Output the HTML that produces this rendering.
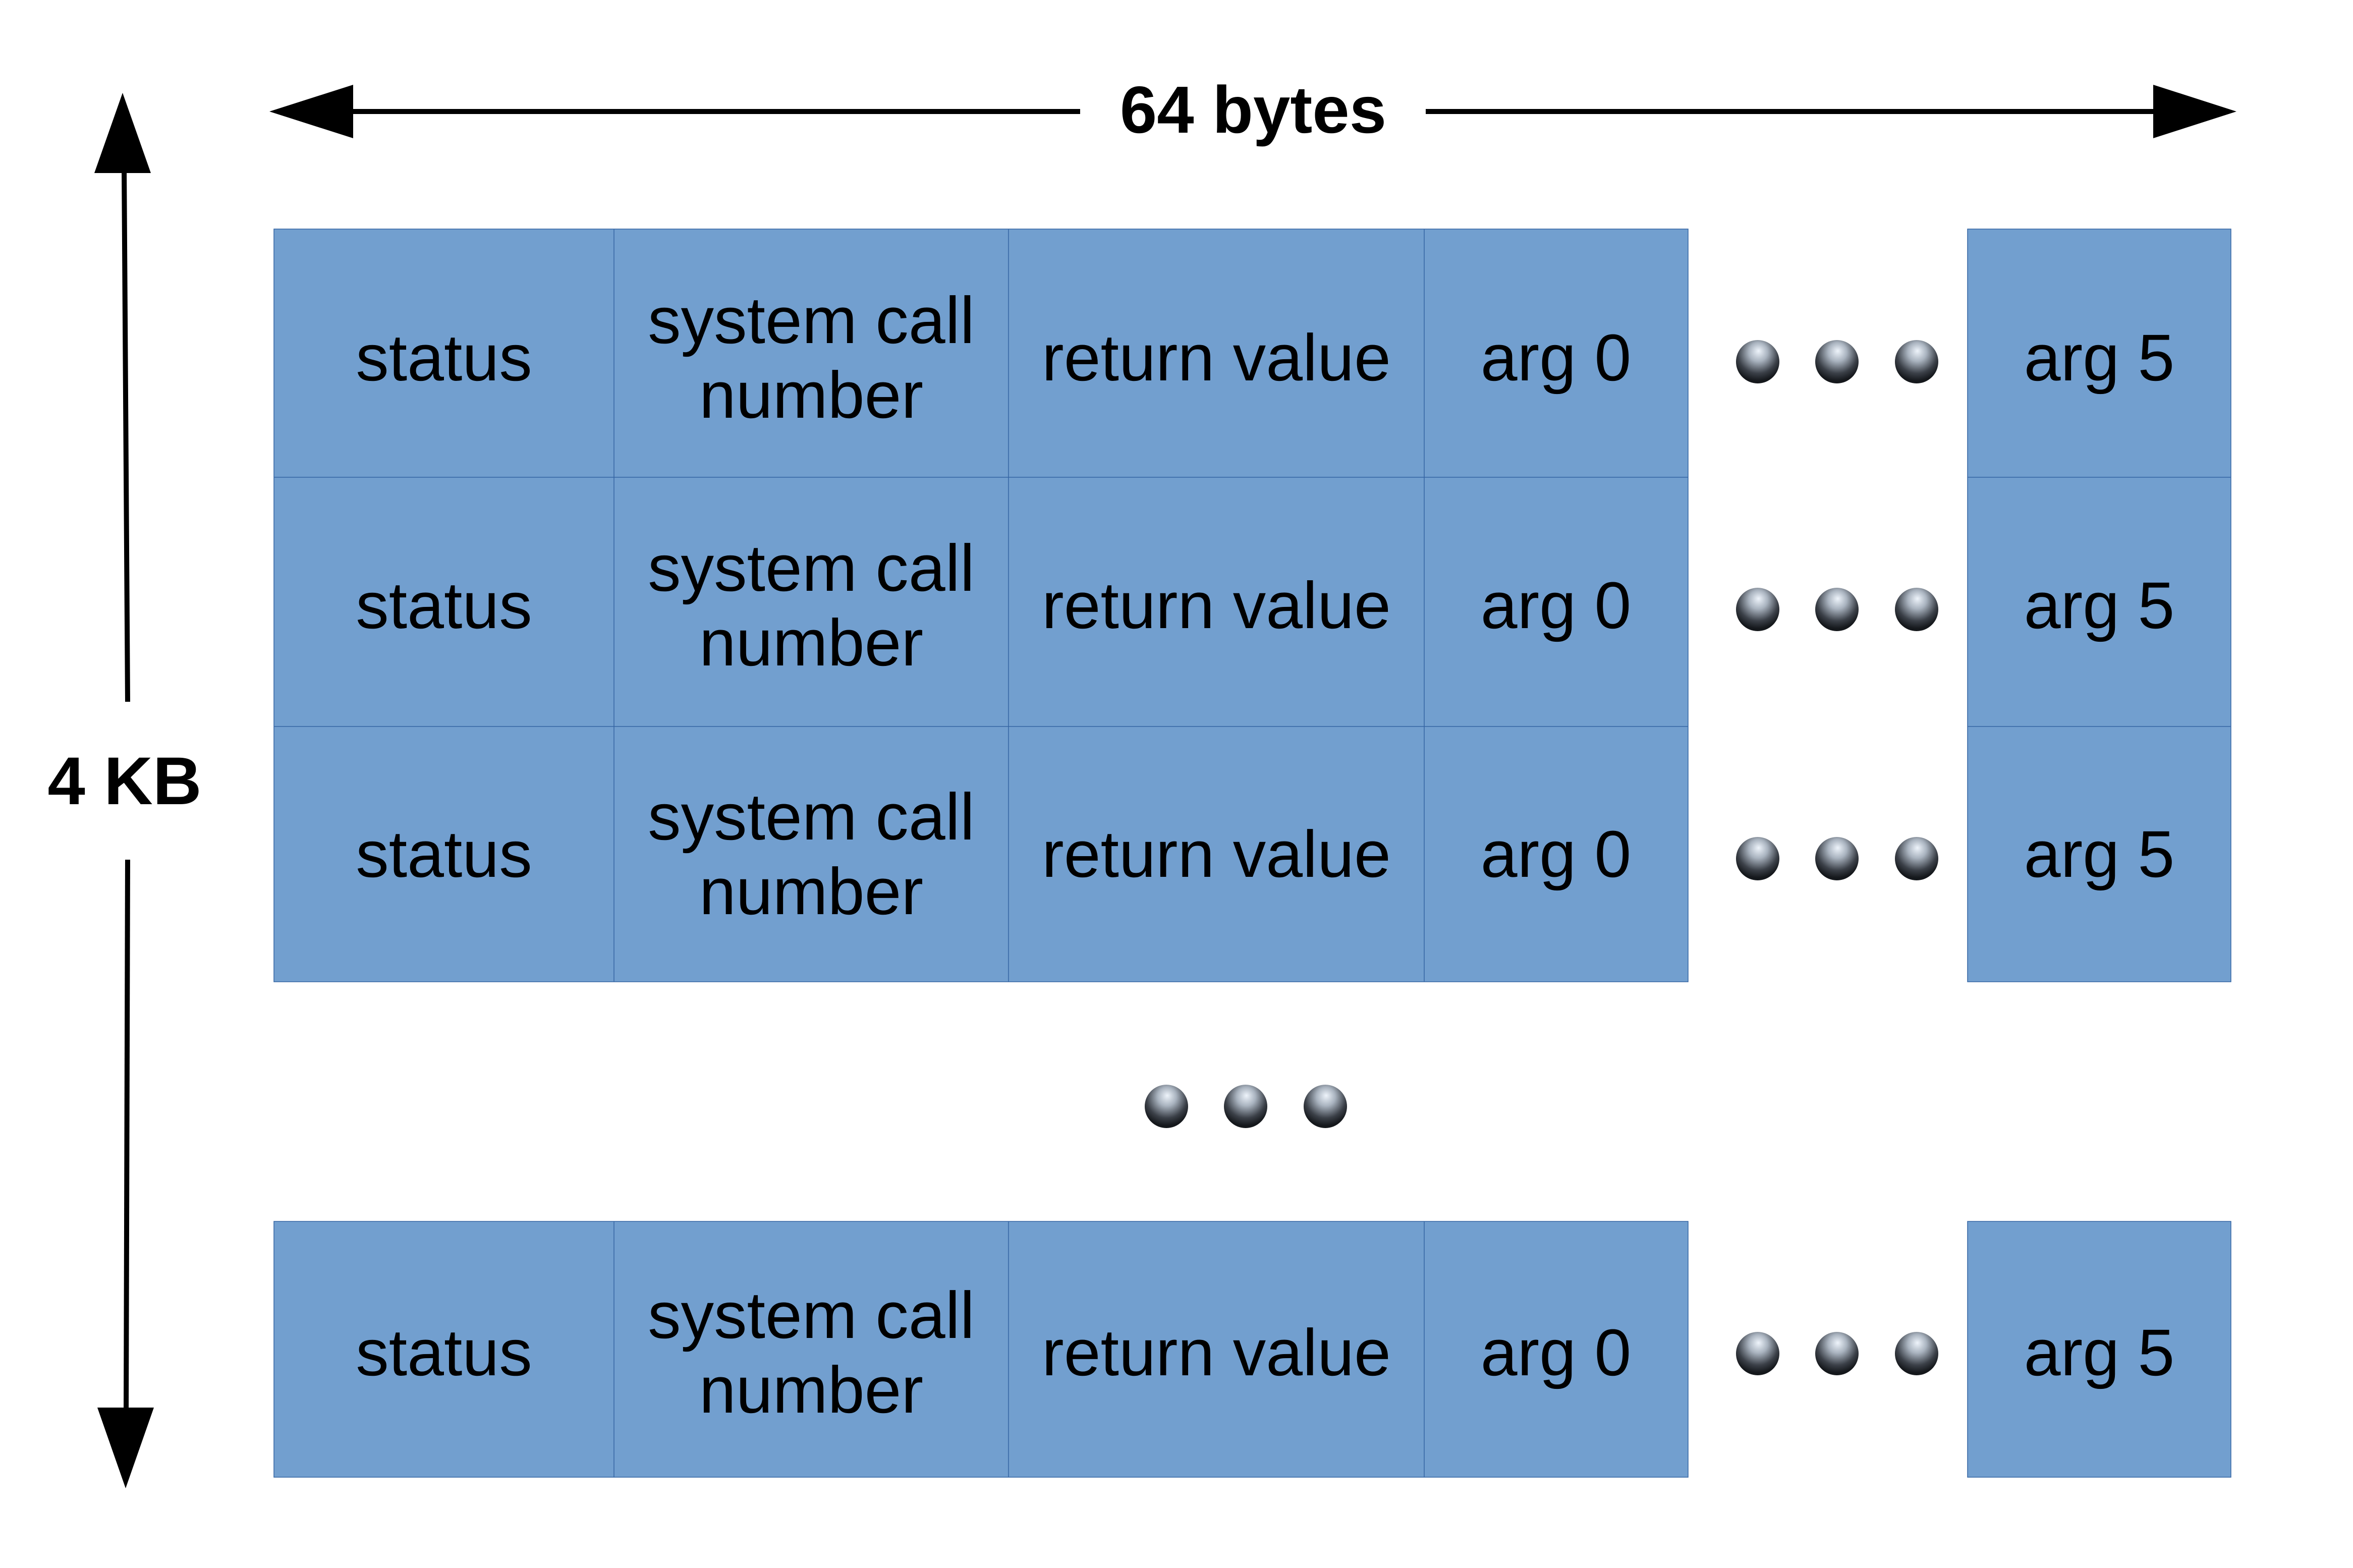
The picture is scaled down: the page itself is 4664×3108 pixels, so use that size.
<!DOCTYPE html>
<html><head><meta charset="utf-8"><style>
html,body{margin:0;padding:0;background:#fff;}
svg{display:block;}
text{font-family:"Liberation Sans",sans-serif;}
</style></head><body>
<svg width="4664" height="3108" viewBox="0 0 4664 3108" xmlns="http://www.w3.org/2000/svg">
<defs>
<radialGradient id="sp" cx="50%" cy="32%" r="62%" fx="52%" fy="25%">
<stop offset="0" stop-color="#eef4fb"/>
<stop offset="0.35" stop-color="#a9b3bf"/>
<stop offset="0.75" stop-color="#3b4048"/>
<stop offset="1" stop-color="#15181c"/>
</radialGradient>
</defs>
<rect width="4664" height="3108" fill="#fff"/>

<line x1="690" y1="221" x2="2141" y2="221" stroke="#000" stroke-width="10"/>
<line x1="2826" y1="221" x2="4280" y2="221" stroke="#000" stroke-width="10"/>
<polygon points="534,221 700,168 700,274" fill="#000"/>
<polygon points="4433,221 4268,168 4268,274" fill="#000"/>
<text x="2484" y="263" font-size="132" font-weight="bold" text-anchor="middle">64 bytes</text>

<line x1="246" y1="330" x2="253" y2="1391" stroke="#000" stroke-width="10"/>
<polygon points="243,184 187,343 299,343" fill="#000"/>
<line x1="253" y1="1704" x2="250" y2="2800" stroke="#000" stroke-width="10"/>
<polygon points="249,2950 193,2790 305,2790" fill="#000"/>
<text x="247" y="1594" font-size="134" font-weight="bold" text-anchor="middle">4 KB</text>

<g stroke="#3465a4" stroke-width="1.5" fill="#729fcf">
<rect x="543" y="454" width="2803" height="1492"/>
<rect x="3900" y="454" width="522" height="1492"/>
<line x1="543" y1="946" x2="3346" y2="946"/>
<line x1="543" y1="1440" x2="3346" y2="1440"/>
<line x1="3900" y1="946" x2="4422" y2="946"/>
<line x1="3900" y1="1440" x2="4422" y2="1440"/>
<line x1="1217" y1="454" x2="1217" y2="1946"/>
<line x1="1999" y1="454" x2="1999" y2="1946"/>
<line x1="2823" y1="454" x2="2823" y2="1946"/>
<rect x="543" y="2421" width="2803" height="507"/>
<rect x="3900" y="2421" width="522" height="507"/>
<line x1="1217" y1="2421" x2="1217" y2="2928"/>
<line x1="1999" y1="2421" x2="1999" y2="2928"/>
<line x1="2823" y1="2421" x2="2823" y2="2928"/>
</g>

<g font-size="131" text-anchor="middle" fill="#000">
<text x="880" y="754">status</text>
<text x="1608" y="680">system call</text>
<text x="1608" y="828">number</text>
<text x="2411" y="754">return value</text>
<text x="3084" y="754">arg 0</text>
<text x="4161" y="754">arg 5</text>

<text x="880" y="1245">status</text>
<text x="1608" y="1171">system call</text>
<text x="1608" y="1319">number</text>
<text x="2411" y="1245">return value</text>
<text x="3084" y="1245">arg 0</text>
<text x="4161" y="1245">arg 5</text>

<text x="880" y="1738">status</text>
<text x="1608" y="1664">system call</text>
<text x="1608" y="1812">number</text>
<text x="2411" y="1738">return value</text>
<text x="3084" y="1738">arg 0</text>
<text x="4161" y="1738">arg 5</text>

<text x="880" y="2726">status</text>
<text x="1608" y="2652">system call</text>
<text x="1608" y="2800">number</text>
<text x="2411" y="2726">return value</text>
<text x="3084" y="2726">arg 0</text>
<text x="4161" y="2726">arg 5</text>
</g>

<g fill="url(#sp)">
<circle cx="3484" cy="717" r="43"/><circle cx="3641" cy="717" r="43"/><circle cx="3799" cy="717" r="43"/>
<circle cx="3484" cy="1208" r="43"/><circle cx="3641" cy="1208" r="43"/><circle cx="3799" cy="1208" r="43"/>
<circle cx="3484" cy="1702" r="43"/><circle cx="3641" cy="1702" r="43"/><circle cx="3799" cy="1702" r="43"/>
<circle cx="3484" cy="2683" r="43"/><circle cx="3641" cy="2683" r="43"/><circle cx="3799" cy="2683" r="43"/>
<circle cx="2312" cy="2193" r="43"/><circle cx="2469" cy="2193" r="43"/><circle cx="2627" cy="2193" r="43"/>
</g>
</svg>
</body></html>
